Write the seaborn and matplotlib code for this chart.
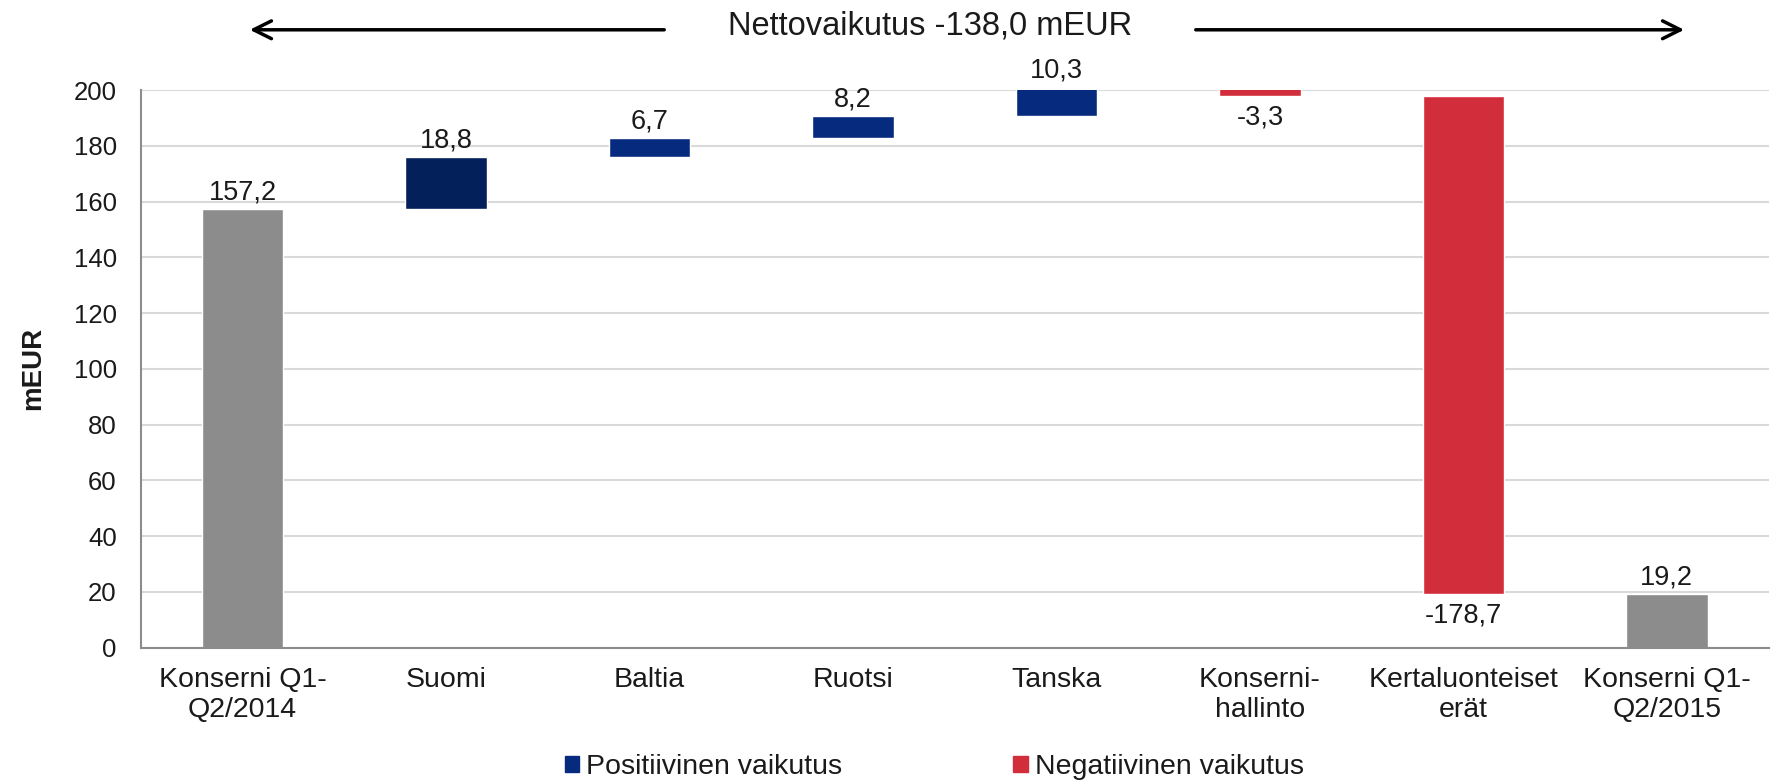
import matplotlib
matplotlib.use("Agg")
import matplotlib.pyplot as plt
import matplotlib.patches as mpatches
import seaborn as sns
import pandas as pd

categories = ["Konserni Q1-\nQ2/2014", "Suomi", "Baltia", "Ruotsi", "Tanska",
              "Konserni-\nhallinto", "Kertaluonteiset\nerät", "Konserni Q1-\nQ2/2015"]
changes = [157.2, 18.8, 6.7, 8.2, 10.3, -3.3, -178.7, 19.2]
kinds = ["total", "pos", "pos", "pos", "pos", "neg", "neg", "total"]
bar_colors = ["#8c8c8c", "#03205a", "#062b7e", "#062b7e", "#062b7e", "#d12d3b", "#d12d3b", "#8c8c8c"]
yticks = list(range(0, 201, 20))
net_text = "Nettovaikutus -138,0 mEUR"
legend_labels = ["Positiivinen vaikutus", "Negatiivinen vaikutus"]

# waterfall bases
bottoms = []
running = 0.0
for c, k in zip(changes, kinds):
    if k == "total":
        bottoms.append(0.0)
        running = c
    elif c >= 0:
        bottoms.append(running)
        running += c
    else:
        running += c
        bottoms.append(running)

df = pd.DataFrame({"cat": categories, "height": [abs(c) for c in changes],
                   "bottom": bottoms, "change": changes, "kind": kinds})

sns.set_style("white")
plt.rcParams["font.family"] = ["Liberation Sans", "DejaVu Sans"]
txt_col = "#1a1a1a"

fig = plt.figure(figsize=(17.73, 7.84), dpi=100)
ax = fig.add_axes([0.0795, 0.174, 0.918, 0.711])

sns.barplot(data=df, x="cat", y="height", hue="cat", palette=bar_colors,
            width=0.4, saturation=1, legend=False, ax=ax, order=categories)
for bar, b in zip(ax.patches, df["bottom"]):
    bar.set_y(b)

# value labels
for i, row in df.iterrows():
    txt = f"{abs(row['change']):.1f}".replace(".", ",")
    if row["change"] < 0:
        txt = "-" + txt
        ax.annotate(txt, (i, row["bottom"]), xytext=(0, -6), textcoords="offset points",
                    ha="center", va="top", fontsize=19.5, color=txt_col)
    else:
        ax.annotate(txt, (i, row["bottom"] + row["height"]), xytext=(0, 2.5),
                    textcoords="offset points", ha="center", va="bottom",
                    fontsize=19.5, color=txt_col, annotation_clip=False)

ax.set_ylim(0, 200)
ax.set_xlim(-0.5, len(categories) - 0.5)
ax.set_yticks(yticks)
ax.yaxis.grid(True, color="#d9d9d9", lw=1.5)
ax.set_axisbelow(True)
ax.set_ylabel("mEUR", fontsize=20, fontweight="bold", labelpad=20, color=txt_col)
ax.set_xlabel("")
ax.tick_params(axis="y", labelsize=18.5, length=6.5, color="#8c8c8c", width=1.3,
               pad=11, labelcolor=txt_col)
ax.tick_params(axis="x", which="major", labelsize=20.5, length=0, pad=14,
               labelcolor=txt_col)
ax.set_xticks([i - 0.5 for i in range(len(categories) + 1)], minor=True)
ax.tick_params(axis="x", which="minor", length=6, color="#8c8c8c", width=1.3)
for s in ["top", "right"]:
    ax.spines[s].set_visible(False)
for s in ["left", "bottom"]:
    ax.spines[s].set_color("#8c8c8c")
    ax.spines[s].set_linewidth(1.5)

# net effect header with arrows
fig.text(930 / 1773, 1 - 26 / 784, net_text, ha="center", va="center", fontsize=23.5,
         color=txt_col)
arrow = dict(arrowstyle="->", color="black", lw=2.5, mutation_scale=32)
fig.add_artist(mpatches.FancyArrowPatch((667 / 1773, 0.962), (247 / 1773, 0.962),
                                        transform=fig.transFigure, **arrow))
fig.add_artist(mpatches.FancyArrowPatch((1193 / 1773, 0.962), (1687 / 1773, 0.962),
                                        transform=fig.transFigure, **arrow))

handles = [mpatches.Patch(color="#062b7e"), mpatches.Patch(color="#d12d3b")]
fig.legend(handles, legend_labels, loc="center", bbox_to_anchor=(0.527, 0.022), ncol=2,
           frameon=False, fontsize=20.5, handlelength=0.5, handleheight=0.5,
           handletextpad=0.25, columnspacing=6, labelcolor=txt_col)

fig.savefig("out.png", dpi=100)
